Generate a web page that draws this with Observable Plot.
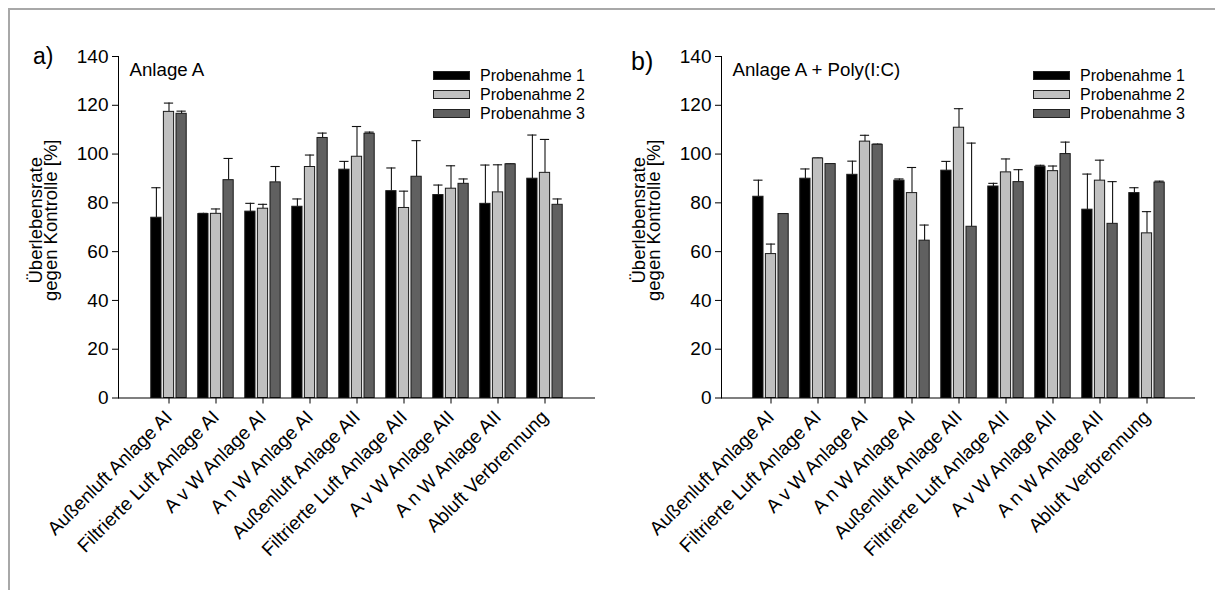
<!DOCTYPE html>
<html>
<head>
<meta charset="utf-8">
<script src="https://cdn.jsdelivr.net/npm/d3@7"></script>
<script src="https://cdn.jsdelivr.net/npm/@observablehq/plot@0.6"></script>
<style>
  html, body { margin: 0; padding: 0; background: #fff; }
  #page { position: relative; width: 1215px; height: 590px; overflow: hidden; font-family: "Liberation Sans", Arial, sans-serif; }
  .panel { position: absolute; top: 0; }
  .border-top { position: absolute; left: 8px; top: 8px; width: 1207px; height: 2px; background: #a8a8a8; }
  .border-left { position: absolute; left: 8px; top: 8px; width: 2px; height: 582px; background: #a8a8a8; }
  .plabel { position: absolute; font-size: 22px; line-height: 1; color: #000; }
  .legend { position: absolute; font-size: 16px; color: #000; }
  .legend .row { position: absolute; left: 0; white-space: nowrap; height: 19px; }
  .legend .sw { position: absolute; left: 0; top: 5px; width: 37px; height: 9px; border: 1px solid #222; box-sizing: border-box; }
  .legend .lt { position: absolute; left: 47px; top: 0; line-height: 19px; }
</style>
</head>
<body>
<div id="page">
  <div class="border-top"></div>
  <div class="border-left"></div>
</div>
<script>
const categories = [
  "Außenluft Anlage AI",
  "Filtrierte Luft Anlage AI",
  "A v W Anlage AI",
  "A n W Anlage AI",
  "Außenluft Anlage AII",
  "Filtrierte Luft Anlage AII",
  "A v W Anlage AII",
  "A n W Anlage AII",
  "Abluft Verbrennung"
];
const seriesNames = ["Probenahme 1", "Probenahme 2", "Probenahme 3"];
const seriesColors = ["#000000", "#c0c0c0", "#606060"];
const yTicks = [0, 20, 40, 60, 80, 100, 120, 140];

// Panel a) Anlage A
const a1 = [73.9, 75.4, 76.4, 78.4, 93.6, 84.8, 83.2, 79.6, 89.9];
const a1Err = [12.3, 0.3, 3.4, 3.2, 3.4, 9.5, 4.1, 15.9, 17.9];
const a2 = [117.3, 75.5, 77.6, 94.7, 98.9, 77.9, 85.8, 84.3, 92.3];
const a2Err = [3.6, 2.0, 1.8, 4.9, 12.4, 6.9, 9.4, 11.3, 13.7];
const a3 = [116.5, 89.3, 88.4, 106.6, 108.3, 90.7, 87.8, 95.8, 79.2];
const a3Err = [1.1, 8.9, 6.5, 2.0, 0.7, 14.8, 2.0, 0.2, 2.4];

// Panel b) Anlage A + Poly(I:C)
const b1 = [82.5, 89.9, 91.5, 89.1, 93.2, 86.7, 94.8, 77.2, 84.0];
const b1Err = [6.8, 4.0, 5.6, 0.7, 3.8, 1.3, 0.6, 14.6, 2.2];
const b2 = [59.0, 98.2, 105.1, 84.0, 110.8, 92.5, 93.0, 89.1, 67.5];
const b2Err = [4.1, 0.2, 2.6, 10.5, 7.8, 5.5, 2.1, 8.4, 8.9];
const b3 = [75.4, 95.9, 103.8, 64.5, 70.2, 88.5, 100.0, 71.4, 88.3];
const b3Err = [0.0, 0.0, 0.3, 6.4, 34.3, 5.1, 4.9, 17.3, 0.6];

const yTitle = "Überlebensrate\ngegen Kontrolle [%]";

function makePanel({values, errs, title, left, marginRight, paddingOuter}) {
  const W = 603, H = 590, ML = 118, MT = 56, MB = H - 397.5;
  const rows = [];
  categories.forEach((c, ci) => seriesNames.forEach((s, si) => {
    rows.push({cat: c, s, si, value: values[si][ci], err: errs[si][ci]});
  }));
  const step = (W - ML - marginRight) / (categories.length + 2 * paddingOuter);
  const barW = 10.6, barStep = 12.6;
  const marks = [];
  seriesNames.forEach((s, i) => {
    const data = rows.filter(d => d.si === i);
    const c = step / 2 + (i - 1) * barStep;
    const iL = c - barW / 2, iR = step - c - barW / 2;
    marks.push(Plot.ruleX(data, {x: "cat", y1: "value", y2: d => d.value + d.err, dx: (i - 1) * barStep, stroke: "#111", strokeWidth: 1.1}));
    marks.push(Plot.tickY(data, {x: "cat", y: d => d.value + d.err, insetLeft: iL + 0.5, insetRight: iR + 0.5, stroke: "#111", strokeWidth: 1.1}));
    marks.push(Plot.barY(data, {x: "cat", y: "value", fill: seriesColors[i], stroke: "#1a1a1a", strokeWidth: 1, insetLeft: iL, insetRight: iR}));
  });
  marks.push(Plot.ruleY([0], {stroke: "#000", strokeWidth: 1.2}));
  marks.push(Plot.text([title], {frameAnchor: "top-left", dx: 11, dy: 6, textAnchor: "start", lineAnchor: "top", fontSize: 18.7}));
  marks.push(Plot.text([yTitle], {frameAnchor: "left", dx: -74, dy: -7, rotate: -90, textAnchor: "middle", lineAnchor: "middle", fontSize: 18.5, lineHeight: 0.84}));
  const svg = Plot.plot({
    width: W,
    height: H,
    marginLeft: ML,
    marginRight,
    marginTop: MT,
    marginBottom: MB,
    style: {fontFamily: "'Liberation Sans', Arial, sans-serif", fontSize: "19px", color: "#000", background: "transparent"},
    x: {type: "band", domain: categories, paddingInner: 0, paddingOuter, tickSize: 6, tickPadding: 10, tickRotate: -45, label: null},
    y: {domain: [0, 140], ticks: yTicks, tickSize: 6, tickPadding: 4, line: true, label: null},
    marks
  });
  const wrap = document.createElement("div");
  wrap.className = "panel";
  wrap.style.left = left + "px";
  wrap.appendChild(svg);
  return wrap;
}

const page = document.getElementById("page");
page.appendChild(makePanel({values: [a1, a2, a3], errs: [a1Err, a2Err, a3Err], title: "Anlage A", left: 0, marginRight: 8, paddingOuter: 0.534}));
page.appendChild(makePanel({values: [b1, b2, b3], errs: [b1Err, b2Err, b3Err], title: "Anlage A + Poly(I:C)", left: 603, marginRight: 11, paddingOuter: 0.503}));

function addLabel(text, x, y, size) {
  const d = document.createElement("div");
  d.className = "plabel";
  d.textContent = text;
  d.style.left = x + "px";
  d.style.top = y + "px";
  d.style.fontSize = size + "px";
  page.appendChild(d);
}
addLabel("a)", 33, 45, 23);
addLabel("b)", 631, 49, 25);

function addLegend(x, y) {
  const lg = document.createElement("div");
  lg.className = "legend";
  lg.style.left = x + "px";
  lg.style.top = y + "px";
  seriesNames.forEach((s, i) => {
    const r = document.createElement("div");
    r.className = "row";
    r.style.top = (i * 19) + "px";
    const sw = document.createElement("div");
    sw.className = "sw";
    sw.style.background = seriesColors[i];
    const t = document.createElement("div");
    t.className = "lt";
    t.textContent = s;
    r.appendChild(sw);
    r.appendChild(t);
    lg.appendChild(r);
  });
  page.appendChild(lg);
}
addLegend(433, 66);
addLegend(1033, 66);
</script>
</body>
</html>
